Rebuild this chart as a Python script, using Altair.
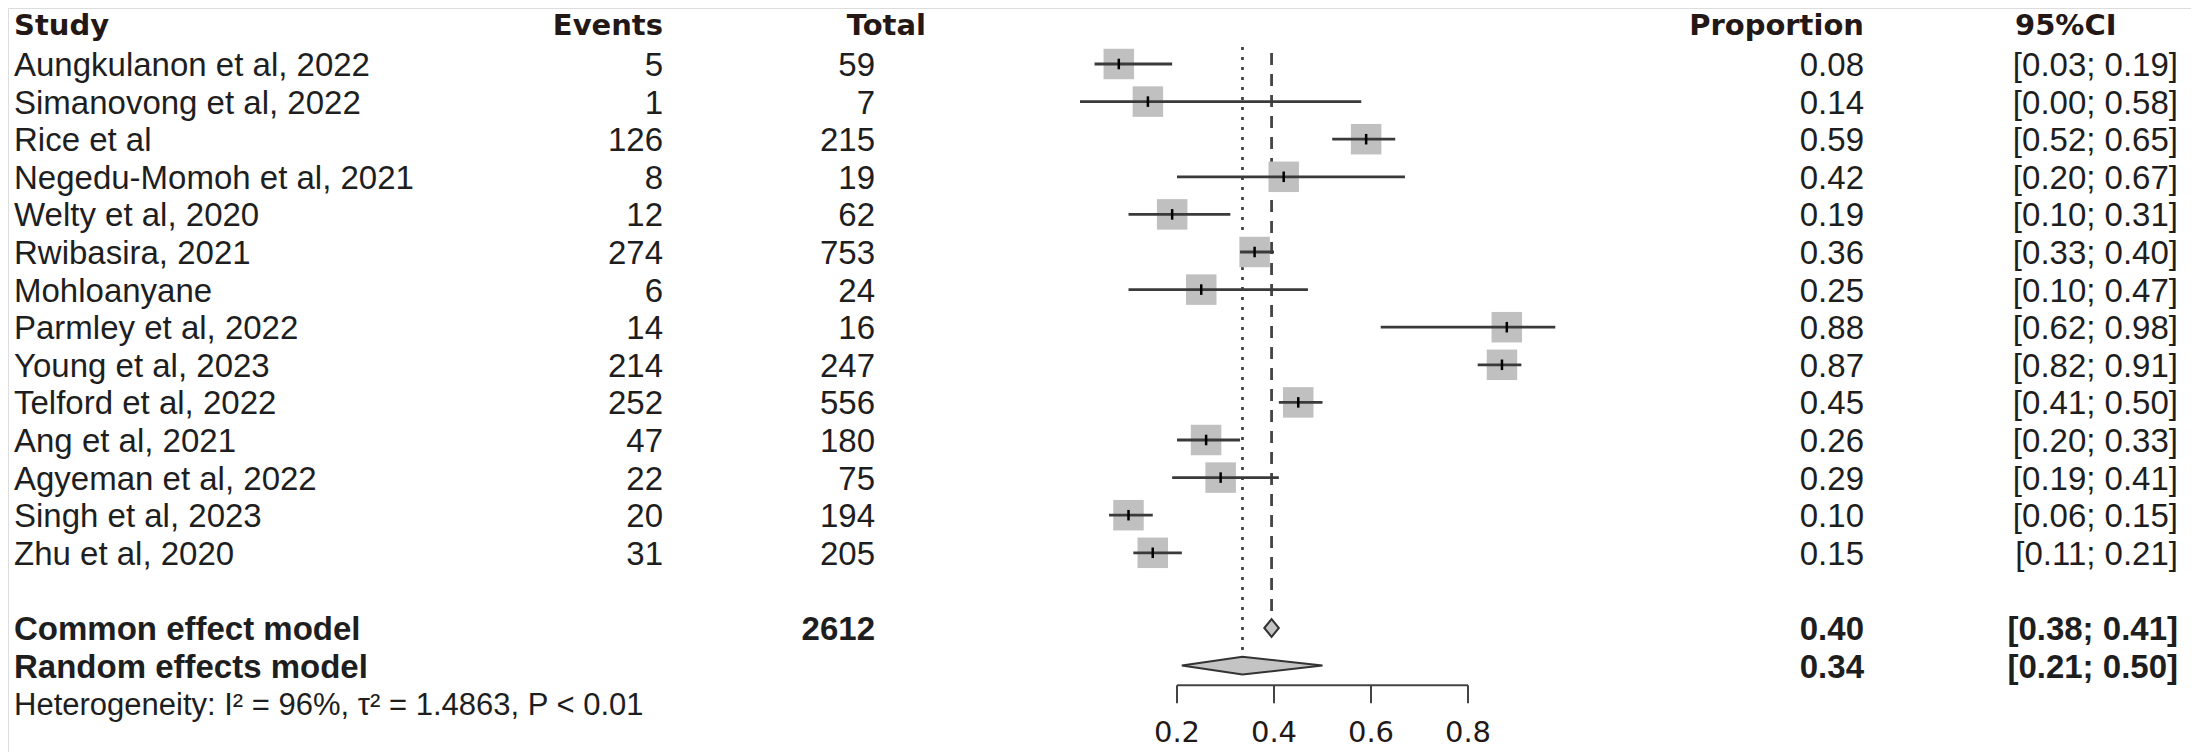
import altair as alt
import pandas as pd

# ---------------- data ----------------
studies = [
    "Aungkulanon et al, 2022", "Simanovong et al, 2022", "Rice et al",
    "Negedu-Momoh et al, 2021", "Welty et al, 2020", "Rwibasira, 2021",
    "Mohloanyane", "Parmley et al, 2022", "Young et al, 2023",
    "Telford et al, 2022", "Ang et al, 2021", "Agyeman et al, 2022",
    "Singh et al, 2023", "Zhu et al, 2020",
]
events = [5, 1, 126, 8, 12, 274, 6, 14, 214, 252, 47, 22, 20, 31]
totals = [59, 7, 215, 19, 62, 753, 24, 16, 247, 556, 180, 75, 194, 205]
proportions = [0.08, 0.14, 0.59, 0.42, 0.19, 0.36, 0.25, 0.88, 0.87, 0.45, 0.26, 0.29, 0.10, 0.15]
ci_lower = [0.03, 0.00, 0.52, 0.20, 0.10, 0.33, 0.10, 0.62, 0.82, 0.41, 0.20, 0.19, 0.06, 0.11]
ci_upper = [0.19, 0.58, 0.65, 0.67, 0.31, 0.40, 0.47, 0.98, 0.91, 0.50, 0.33, 0.41, 0.15, 0.21]
prop_labels = ["0.08", "0.14", "0.59", "0.42", "0.19", "0.36", "0.25",
               "0.88", "0.87", "0.45", "0.26", "0.29", "0.10", "0.15"]
ci_labels = ["[0.03; 0.19]", "[0.00; 0.58]", "[0.52; 0.65]", "[0.20; 0.67]",
             "[0.10; 0.31]", "[0.33; 0.40]", "[0.10; 0.47]", "[0.62; 0.98]",
             "[0.82; 0.91]", "[0.41; 0.50]", "[0.20; 0.33]", "[0.19; 0.41]",
             "[0.06; 0.15]", "[0.11; 0.21]"]

pooled_names = ["Common effect model", "Random effects model"]
pooled_est = [0.395, 0.335]
pooled_lo = [0.38, 0.21]
pooled_hi = [0.41, 0.50]
pooled_prop_labels = ["0.40", "0.34"]
pooled_ci_labels = ["[0.38; 0.41]", "[0.21; 0.50]"]
common_total = ["2612"]
heterogeneity = ["Heterogeneity: I\u00b2 = 96%, \u03c4\u00b2 = 1.4863, P < 0.01"]
axis_ticks = [0.2, 0.4, 0.6, 0.8]

# ---------------- layout ----------------
W, H = 2183, 744
X0_PX = 1072          # pixel of proportion 0 inside the chart
PX_PER_UNIT = 485
ROW0, ROWH = 56, 37.6  # pixel of first study row, row spacing

xscale = alt.Scale(domain=[-X0_PX / PX_PER_UNIT, (W - X0_PX) / PX_PER_UNIT], nice=False, zero=False)
yscale = alt.Scale(domain=[-ROW0 / ROWH, (H - ROW0) / ROWH], nice=False, zero=False, reverse=True)

n = len(studies)
df = pd.DataFrame({
    "row": list(range(n)),
    "study": studies,
    "events": [str(v) for v in events],
    "total": [str(v) for v in totals],
    "prop": proportions,
    "lo": ci_lower,
    "hi": ci_upper,
    "plab": prop_labels,
    "cilab": ci_labels,
})

COMMON_ROW, RANDOM_ROW, HET_ROW = 15, 16, 17
pooled = pd.DataFrame({
    "row": [COMMON_ROW, RANDOM_ROW],
    "name": pooled_names,
    "est": pooled_est,
    "lo": pooled_lo,
    "hi": pooled_hi,
    "plab": pooled_prop_labels,
    "cilab": pooled_ci_labels,
})

# diamond polygons
DH = 0.235
dia_rows = []
for i in range(2):
    r = pooled["row"][i]
    for xv, half in [(pooled_lo[i], 0), (pooled_est[i], DH), (pooled_hi[i], 0)]:
        dia_rows.append({"model": pooled_names[i], "x": xv, "ytop": r - half, "ybot": r + half})
dia = pd.DataFrame(dia_rows)

ticks_df = pd.DataFrame({"tick": axis_ticks})
axis_df = pd.DataFrame({"start": [min(axis_ticks)], "end": [max(axis_ticks)]})

Y = lambda f: alt.Y(f, scale=yscale, axis=None)
X = lambda f: alt.X(f, scale=xscale, axis=None)

BODY_FONT = "Liberation Sans"
HEAD_FONT = "DejaVu Sans"
FS = 33
DY = 12
TXT = "#1e1e1e"
HEAD_COL = "#231815"

base = alt.Chart(df)

# reference lines
dotted = alt.Chart(pd.DataFrame({"x": [pooled_est[1]], "y1": [-0.45], "y2": [RANDOM_ROW - DH]})).mark_rule(
    color="#444444", strokeWidth=2.8, strokeDash=[3, 7]
).encode(x=X("x:Q"), y=Y("y1:Q"), y2="y2:Q")
dashed = alt.Chart(pd.DataFrame({"x": [pooled_est[0]], "y1": [-0.29], "y2": [14.55]})).mark_rule(
    color="#444444", strokeWidth=2.8, strokeDash=[12, 9]
).encode(x=X("x:Q"), y=Y("y1:Q"), y2="y2:Q")

squares = base.mark_square(color="#c0c0c0", size=930, opacity=1).encode(x=X("prop:Q"), y=Y("row:Q"))
ci = base.mark_rule(color="#3a3a3a", strokeWidth=2.8).encode(x=X("lo:Q"), x2="hi:Q", y=Y("row:Q"))
est = base.transform_calculate(t="datum.row - 0.14", b="datum.row + 0.14").mark_rule(
    color="#000000", strokeWidth=2.5
).encode(x=X("prop:Q"), y=Y("t:Q"), y2="b:Q")

diamonds = alt.Chart(dia).mark_area(
    orient="vertical", color="#c4c4c4", stroke="#333333", strokeWidth=2, opacity=1
).encode(x=X("x:Q"), y=Y("ytop:Q"), y2="ybot:Q", detail="model:N")

# custom axis
AX_ROW = 16.52
axis_line = alt.Chart(axis_df).mark_rule(color="#444444", strokeWidth=2).encode(
    x=X("start:Q"), x2="end:Q", y=alt.Y("a:Q", scale=yscale, axis=None)
).transform_calculate(a=str(AX_ROW))
axis_ticks_m = alt.Chart(ticks_df).transform_calculate(a=str(AX_ROW), b="17.0").mark_rule(
    color="#444444", strokeWidth=2
).encode(x=X("tick:Q"), y=Y("a:Q"), y2="b:Q")
axis_labels = alt.Chart(ticks_df).transform_calculate(a="17.71").mark_text(
    font=HEAD_FONT, fontSize=29, color="#231815", baseline="alphabetic", dy=DY, align="center"
).encode(x=X("tick:Q"), y=Y("a:Q"), text=alt.Text("tick:Q", format=".1f"))


def col_text(data, field, xpx, align, bold=False, font=BODY_FONT, size=FS, color=TXT):
    return alt.Chart(data).mark_text(
        font=font, fontSize=size, fontWeight="bold" if bold else "normal",
        align=align, baseline="alphabetic", dy=DY, color=color
    ).encode(x=alt.value(xpx), y=Y("row:Q"), text=f"{field}:N")


HEAD_ROW = -1.1
HEAD_FS = 29
headers = pd.DataFrame({"row": [HEAD_ROW] * 5,
                        "h": ["Study", "Events", "Total", "Proportion", "95%CI"]})
h = headers
head_layers = [
    col_text(h[h.h == "Study"], "h", 6, "left", True, HEAD_FONT, HEAD_FS, HEAD_COL),
    col_text(h[h.h == "Events"], "h", 655, "right", True, HEAD_FONT, HEAD_FS, HEAD_COL),
    col_text(h[h.h == "Total"], "h", 918, "right", True, HEAD_FONT, HEAD_FS, HEAD_COL),
    col_text(h[h.h == "Proportion"], "h", 1856, "right", True, HEAD_FONT, HEAD_FS, HEAD_COL),
    col_text(h[h.h == "95%CI"], "h", 2007, "left", True, HEAD_FONT, HEAD_FS, HEAD_COL),
]

text_layers = [
    col_text(df, "study", 6, "left"),
    col_text(df, "events", 655, "right"),
    col_text(df, "total", 867, "right"),
    col_text(df, "plab", 1856, "right"),
    col_text(df, "cilab", 2170, "right"),
    col_text(pooled, "name", 6, "left", True),
    col_text(pooled, "plab", 1856, "right", True),
    col_text(pooled, "cilab", 2170, "right", True),
    col_text(pd.DataFrame({"row": [COMMON_ROW], "t": common_total}), "t", 867, "right", True),
    col_text(pd.DataFrame({"row": [HET_ROW], "t": heterogeneity}), "t", 6, "left", size=31),
]

chart = alt.layer(
    dotted, dashed, squares, ci, est, diamonds,
    axis_line, axis_ticks_m, axis_labels,
    *head_layers, *text_layers
).properties(
    width=W, height=H, padding=0,
    autosize=alt.AutoSizeParams(type="none"),
).configure_view(stroke=None).configure(background="white")

chart.save("out.html", embed_options={"renderer": "svg", "actions": False})
